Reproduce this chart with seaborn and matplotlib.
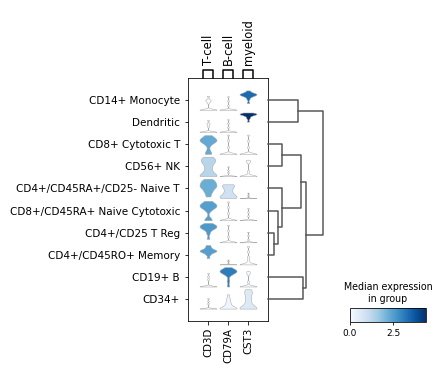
import numpy as np
import pandas as pd
import matplotlib
matplotlib.use("Agg")
import matplotlib.pyplot as plt
import seaborn as sns
from matplotlib.ticker import FormatStrFormatter

# cell types (rows, in dendrogram order) and genes (columns)
cell_types = [
    "CD14+ Monocyte", "Dendritic", "CD8+ Cytotoxic T", "CD56+ NK",
    "CD4+/CD45RA+/CD25- Naive T", "CD8+/CD45RA+ Naive Cytotoxic",
    "CD4+/CD25 T Reg", "CD4+/CD45RO+ Memory", "CD19+ B", "CD34+",
]
genes = ["CD3D", "CD79A", "CST3"]
gene_groups = ["T-cell", "B-cell", "myeloid"]

# expression samples per cell type
cd3d_expr = [
    [0, 0, 0, 0, 0, 0, 0, 0, 1.6, 2.0, 2.1, 2.3, 3.1],
    [0, 0, 0, 0, 0, 0, 0, 0, 0, 1.4, 2.0, 2.2, 3.0],
    [0, 0, 0.6, 1.6, 2.0, 2.2, 2.3, 2.4, 2.5, 2.6, 2.8, 3.0, 3.3],
    [0, 0, 0, 0, 0.3, 0.9, 1.3, 1.9, 2.3, 2.5, 2.7, 2.9, 3.2],
    [0.3, 0.9, 1.3, 1.6, 1.9, 2.1, 2.2, 2.4, 2.6, 2.8, 3.0, 3.2, 3.5],
    [0, 0, 0.2, 1.8, 2.2, 2.4, 2.5, 2.6, 2.7, 2.8, 3.0, 3.2, 3.5],
    [0.6, 1.5, 2.0, 2.3, 2.4, 2.5, 2.6, 2.7, 2.8, 2.9, 3.0, 3.1, 3.3],
    [1.2, 1.8, 2.1, 2.3, 2.4, 2.5, 2.5, 2.6, 2.7, 2.8, 3.0, 3.3, 3.6],
    [0, 0, 0, 0, 0, 0, 0, 0, 0, 0, 1.5, 2.1, 2.8],
    [0, 0, 0, 0, 0, 0, 0, 0, 0, 0, 0.8, 1.2, 1.6],
]
cd79a_expr = [
    [0, 0, 0, 0, 0, 0, 0, 0, 0, 0, 1.0, 2.0, 3.0],
    [0, 0, 0, 0, 0, 0, 0, 0, 0, 0, 1.2, 2.2, 3.2],
    [0, 0, 0, 0, 0, 0, 0, 0, 0, 0, 1.2, 2.4, 3.4],
    [0, 0, 0, 0, 0, 0, 0, 0, 0, 0, 0.6, 1.0, 1.6],
    [0, 0, 0, 0.2, 0.4, 0.5, 0.6, 0.9, 1.2, 1.5, 1.8, 2.1, 2.3, 2.4, 2.5],
    [0, 0, 0, 0, 0, 0, 0, 0, 0, 0, 1.3, 2.4, 3.4],
    [0, 0, 0, 0, 0, 0, 0, 0, 0, 0, 1.0, 2.0, 3.0],
    [0, 0, 0, 0, 0, 0, 0, 0, 0, 0, 0.3, 0.6, 0.9],
    [0, 1.2, 2.4, 2.7, 2.9, 3.0, 3.1, 3.2, 3.3, 3.4, 3.5, 3.7, 4.0],
    [0, 0, 0, 0, 0, 0, 0.2, 0.4, 0.6, 0.9, 1.2, 1.6, 2.2],
]
cst3_expr = [
    [1.5, 2.4, 2.9, 3.1, 3.2, 3.3, 3.4, 3.5, 3.5, 3.6, 3.7, 3.9, 4.3],
    [2.6, 3.4, 3.8, 4.1, 4.3, 4.4, 4.4, 4.5, 4.6, 4.6, 4.7, 4.8, 4.9],
    [0, 0, 0, 0, 0, 0, 0, 0, 0, 0, 1.2, 2.3, 3.4],
    [0, 0, 0, 0, 0, 0, 0, 0, 0, 0.8, 2.3, 2.5, 2.7],
    [0, 0, 0, 0, 0, 0, 0, 0, 0, 0, 0.3, 0.6, 1.0],
    [0, 0, 0, 0, 0, 0, 0, 0, 0, 0, 0.8, 1.5, 2.2],
    [0, 0, 0, 0, 0, 0, 0, 0, 0, 0, 0.5, 1.2, 1.8],
    [0, 0, 0, 0, 0, 0, 0, 0, 0.4, 0.8, 1.4, 2.4, 3.4],
    [0, 0, 0, 0, 0, 0, 0, 0, 0, 1.0, 2.6, 2.9, 3.2],
    [0, 0, 0, 0, 0, 0, 0.3, 0.6, 1.0, 1.4, 1.8, 2.2, 2.5, 2.8, 3.0],
]

# dendrogram merges: (child a, child b, height); new nodes numbered from 10
dendro_merges = [
    (6, 7, 6), (5, 10, 10), (4, 11, 14), (2, 3, 14), (13, 12, 33),
    (8, 9, 35), (14, 15, 38), (0, 1, 30), (17, 16, 55),
]

expr = {"CD3D": cd3d_expr, "CD79A": cd79a_expr, "CST3": cst3_expr}
medians = {g: [np.median(v) for v in expr[g]] for g in genes}
vmax = max(max(m) for m in medians.values())
cmap = plt.get_cmap("Blues")
norm = matplotlib.colors.Normalize(vmin=0, vmax=vmax)

W, H = 445, 374
fig = plt.figure(figsize=(W / 72, H / 72), dpi=72)

def frac(x0, y0, x1, y1):
    return [x0 / W, 1 - y1 / H, (x1 - x0) / W, (y1 - y0) / H]

# main frame axes
ax = fig.add_axes(frac(188, 78, 268, 321))
ax.set_xlim(-1, 3)
ax.set_ylim(10, -1)
ax.set_yticks(range(len(cell_types)))
ax.set_yticklabels(cell_types, fontsize=10.4)
ax.set_xticks(range(len(genes)))
ax.set_xticklabels(genes, fontsize=10.2, rotation=90)
ax.tick_params(length=3.5, width=0.8)
ax.tick_params(axis="y", pad=4.5)
for s in ax.spines.values():
    s.set_linewidth(0.8)

pos = ax.get_position()
unit = pos.height / 11
for i, ct in enumerate(cell_types):
    rax = fig.add_axes([pos.x0, pos.y0 + unit * (9.5 - i), pos.width, unit])
    rax.patch.set_alpha(0)
    m = 0
    for g in genes:
        vals = np.array(expr[g][i], dtype=float)
        m = max(m, vals.max())
        sub = pd.DataFrame({"gene": g, "value": vals})
        # mostly-zero cells get a tight kernel so the zero spike stays flat
        bw = 0.3 if np.mean(vals == 0) >= 0.5 else 0.6
        sns.violinplot(data=sub, x="gene", y="value", order=genes,
                       color=cmap(norm(medians[g][i])), cut=0,
                       density_norm="width", inner=None, linewidth=0.5,
                       linecolor="#a8a8a8", width=0.85, bw_adjust=bw,
                       saturation=1, ax=rax)
    rax.set_xlim(-1, 3)
    rax.set_ylim(-0.07 * m, 1.07 * m)
    rax.axis("off")

# gene group brackets
gax = fig.add_axes(frac(188, 50, 268, 78))
gax.set_xlim(-1, 3)
gax.set_ylim(0, 28)
gax.axis("off")
for j, grp in enumerate(gene_groups):
    gax.plot([j - 0.25, j - 0.25, j + 0.25, j + 0.25], [0, 8, 8, 0],
             color="black", lw=1.5, clip_on=False)
    gax.text(j, 13, grp, rotation=90, ha="center", va="bottom", fontsize=11.5)

# dendrogram
dax = fig.add_axes(frac(268, 78, 330, 321))
dax.set_ylim(10, -1)
dax.set_xlim(0, 62)
dax.axis("off")
nodes = {i: (0.0, float(i)) for i in range(len(cell_types))}
for k, (a, b, h) in enumerate(dendro_merges):
    xa, ya = nodes[a]
    xb, yb = nodes[b]
    dax.plot([xa, h, h, xb], [ya, ya, yb, yb], color="#555555", lw=1.5,
             clip_on=False)
    nodes[len(cell_types) + k] = (h, (ya + yb) / 2)

# colorbar
cax = fig.add_axes(frac(350, 308, 426, 322))
sm = matplotlib.cm.ScalarMappable(norm=norm, cmap=cmap)
cb = fig.colorbar(sm, cax=cax, orientation="horizontal", ticks=[0, 2.5])
cb.ax.xaxis.set_major_formatter(FormatStrFormatter("%.1f"))
cb.ax.tick_params(labelsize=9, length=3)
cb.outline.set_linewidth(0.8)
cax.set_title("Median expression\nin group", fontsize=9.5, pad=6)

fig.savefig("out.png", dpi=72)
